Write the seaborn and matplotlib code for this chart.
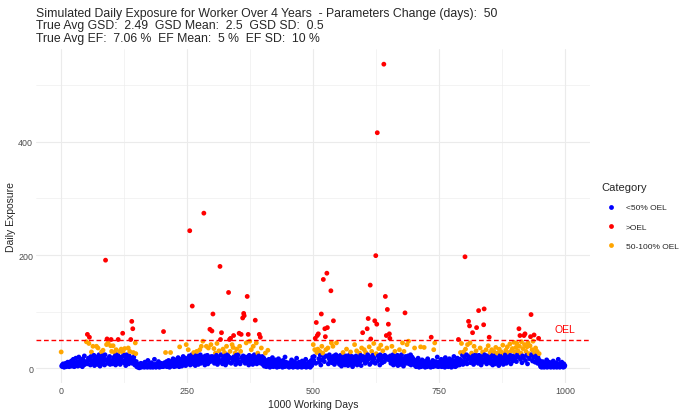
import numpy as np
import pandas as pd
import matplotlib
matplotlib.use("Agg")
import matplotlib.pyplot as plt
import seaborn as sns
from matplotlib.ticker import MultipleLocator

# ---- data: daily exposure, read per 50-day block ----
days_001_050 = [29, 4, 6, 3, 8, 5, 2, 7, 4, 9, 3, 6, 5, 11, 4, 7, 3, 5, 8, 6, 13, 4, 9, 5, 16, 7, 3, 10, 6, 18,
                5, 8, 12, 4, 7, 20, 6, 9, 14, 5, 8, 11, 3, 17, 6, 10, 22, 7, 12, 9]
days_051_100 = [47, 12, 60, 8, 18, 44, 55, 15, 6, 21, 29, 10, 14, 39, 9, 23, 5, 17, 11, 20, 39, 13, 7, 36, 16,
                24, 10, 4, 19, 14, 29, 8, 22, 32, 12, 17, 6, 24, 191, 15, 42, 52, 9, 45, 18, 11, 21, 7, 40, 51]
days_101_150 = [30, 14, 8, 40, 19, 11, 28, 22, 6, 33, 16, 9, 24, 51, 13, 20, 30, 7, 17, 34, 12, 21, 62, 28, 10,
                23, 35, 15, 5, 19, 24, 11, 16, 36, 8, 22, 30, 13, 51, 18, 83, 9, 70, 28, 20, 14, 6, 45, 26, 12]
days_151_200 = [3, 5, 2, 7, 4, 1, 6, 3, 9, 2, 5, 4, 8, 3, 6, 2, 11, 4, 3, 7, 5, 2, 14, 6, 3, 4, 8, 2, 5, 10,
                3, 6, 2, 4, 7, 16, 3, 5, 2, 8, 4, 6, 3, 12, 5, 2, 7, 4, 9, 3]
days_201_250 = [5, 8, 3, 65, 6, 10, 4, 28, 7, 12, 3, 9, 5, 14, 6, 2, 11, 28, 4, 8, 13, 5, 17, 7, 3, 10, 6, 15,
                4, 9, 12, 5, 19, 8, 3, 38, 11, 7, 16, 4, 13, 9, 21, 6, 14, 10, 18, 5, 42, 12]
days_251_300 = [17, 9, 33, 14, 22, 243, 6, 19, 11, 24, 110, 8, 16, 28, 12, 20, 5, 15, 23, 30, 10, 18, 7, 21, 13,
                33, 24, 9, 39, 16, 11, 48, 20, 274, 14, 6, 22, 17, 39, 10, 23, 8, 36, 15, 19, 69, 12, 42, 21, 66]
days_301_350 = [14, 96, 21, 35, 9, 18, 27, 12, 23, 44, 7, 16, 20, 31, 11, 180, 51, 24, 63, 15, 8, 34, 19, 13, 28,
                22, 6, 17, 39, 10, 24, 14, 134, 20, 51, 30, 53, 9, 18, 42, 12, 37, 58, 21, 16, 27, 7, 23, 34, 13]
days_351_400 = [17, 24, 11, 62, 39, 8, 30, 60, 19, 13, 89, 22, 97, 93, 15, 9, 20, 45, 12, 127, 18, 60, 6, 23, 48,
                14, 10, 33, 21, 16, 7, 39, 19, 24, 11, 85, 15, 45, 8, 20, 27, 13, 22, 60, 17, 55, 9, 36, 14, 21]
days_401_450 = [12, 6, 18, 4, 9, 27, 14, 3, 7, 11, 32, 5, 16, 8, 2, 13, 6, 10, 4, 19, 7, 3, 12, 5, 9, 15, 4, 8,
                2, 11, 6, 17, 3, 9, 5, 13, 7, 4, 10, 2, 14, 6, 8, 3, 20, 5, 11, 4, 7, 9]
days_451_500 = [4, 7, 2, 10, 5, 3, 8, 15, 4, 6, 2, 9, 5, 12, 3, 7, 4, 18, 6, 2, 8, 5, 11, 3, 6, 9, 4, 2, 13, 7,
                5, 3, 10, 6, 4, 16, 2, 8, 5, 3, 7, 11, 4, 6, 2, 9, 14, 5, 8, 20]
days_501_550 = [42, 14, 21, 33, 53, 9, 81, 28, 58, 34, 61, 17, 11, 30, 23, 6, 96, 39, 15, 27, 157, 19, 12, 70, 56,
                33, 22, 168, 72, 36, 8, 18, 24, 13, 20, 137, 45, 10, 16, 39, 84, 22, 7, 19, 14, 24, 45, 11, 17, 21]
days_551_600 = [12, 19, 7, 15, 23, 10, 4, 17, 13, 28, 8, 20, 11, 6, 16, 22, 34, 9, 14, 5, 18, 12, 24, 7, 29,
                15, 10, 21, 3, 13, 19, 8, 42, 16, 11, 22, 31, 6, 14, 20, 9, 17, 27, 12, 23, 5, 36, 15, 63, 18]
days_601_650 = [21, 33, 14, 9, 28, 19, 12, 70, 24, 88, 16, 38, 7, 147, 52, 20, 30, 11, 23, 15, 44, 18, 84, 9, 199,
                26, 78, 416, 13, 22, 35, 17, 6, 24, 41, 14, 19, 10, 31, 21, 537, 12, 23, 127, 16, 58, 36, 104, 20, 78]
days_651_700 = [15, 61, 53, 22, 9, 17, 39, 12, 24, 6, 19, 14, 30, 21, 8, 16, 11, 23, 5, 18, 13, 33, 20, 7, 15,
                24, 10, 45, 17, 4, 30, 12, 98, 21, 9, 16, 42, 13, 22, 48, 8, 19, 11, 24, 6, 15, 20, 10, 17, 13]
days_701_750 = [9, 36, 5, 14, 3, 8, 12, 4, 18, 7, 2, 11, 6, 38, 3, 9, 15, 5, 10, 4, 37, 7, 2, 13, 6, 9, 3, 17,
                5, 8, 11, 4, 7, 2, 55, 10, 6, 14, 3, 33, 8, 45, 5, 12, 4, 9, 20, 6, 3, 11]
days_751_800 = [7, 12, 4, 9, 16, 3, 6, 11, 5, 14, 8, 2, 19, 6, 10, 4, 13, 7, 3, 9, 17, 5, 11, 8, 2, 15, 6, 12,
                4, 21, 9, 7, 3, 14, 10, 5, 18, 8, 51, 12, 6, 16, 28, 9, 44, 13, 23, 7, 29, 11]
days_801_850 = [19, 197, 34, 12, 24, 8, 42, 16, 83, 21, 75, 45, 10, 18, 27, 14, 63, 22, 7, 39, 17, 11, 24, 31, 72,
                15, 20, 9, 102, 23, 13, 36, 18, 6, 21, 16, 29, 11, 77, 105, 24, 14, 19, 33, 8, 22, 15, 40, 12, 55]
days_851_900 = [17, 28, 9, 21, 33, 14, 6, 24, 30, 12, 19, 8, 37, 16, 22, 27, 11, 18, 5, 34, 15, 23, 10, 29, 20,
                13, 41, 7, 19, 26, 14, 24, 32, 9, 17, 38, 21, 12, 28, 16, 43, 23, 8, 31, 19, 35, 13, 22, 46, 15]
days_901_950 = [29, 18, 37, 12, 44, 24, 31, 20, 70, 39, 58, 16, 27, 47, 10, 22, 35, 19, 58, 42, 61, 14, 30, 23, 38,
                8, 45, 21, 26, 17, 40, 56, 95, 24, 33, 13, 48, 20, 59, 28, 11, 36, 22, 15, 30, 9, 19, 53, 26, 14]
days_951_1000 = [6, 3, 9, 2, 5, 12, 4, 7, 2, 10, 3, 6, 4, 15, 2, 8, 5, 3, 11, 4, 6, 2, 9, 3, 7, 5, 13, 2, 4, 8,
                 3, 6, 10, 2, 5, 4, 16, 3, 7, 2, 9, 5, 3, 11, 4, 6, 2, 8, 3, 5]

OEL = 50
category_labels = ["<50% OEL", ">OEL", "50-100% OEL"]
category_colors = ["#0000FF", "#FF0000", "#FFA500"]
x_ticks = [0, 250, 500, 750, 1000]
y_ticks = [0, 200, 400]
title_lines = [
    "Simulated Daily Exposure for Worker Over 4 Years  - Parameters Change (days):  50",
    "True Avg GSD:  2.49  GSD Mean:  2.5  GSD SD:  0.5",
    "True Avg EF:  7.06 %  EF Mean:  5 %  EF SD:  10 %",
]

exposure = (days_001_050 + days_051_100 + days_101_150 + days_151_200 + days_201_250 +
            days_251_300 + days_301_350 + days_351_400 + days_401_450 + days_451_500 +
            days_501_550 + days_551_600 + days_601_650 + days_651_700 + days_701_750 +
            days_751_800 + days_801_850 + days_851_900 + days_901_950 + days_951_1000)


def categorize(v):
    if v > OEL:
        return ">OEL"
    if v >= OEL / 2:
        return "50-100% OEL"
    return "<50% OEL"


df = pd.DataFrame({"day": np.arange(1, len(exposure) + 1), "exposure": exposure})
df["Category"] = df["exposure"].map(categorize)

sns.set_theme(style="white")
plt.rcParams["font.family"] = ["Liberation Sans", "DejaVu Sans"]

fig = plt.figure(figsize=(6.9, 4.14), dpi=100)
ax = fig.add_axes([36 / 690, 30 / 414, 554 / 690, 334 / 414])

sns.scatterplot(data=df, x="day", y="exposure", hue="Category", hue_order=category_labels,
                palette=dict(zip(category_labels, category_colors)), s=12, linewidth=0,
                ax=ax, zorder=3)
ax.axhline(OEL, color="#FF0000", ls=(0, (3.4, 2.0)), lw=1.0, zorder=4)
ax.text(1000, 69, "OEL", color="#FF0000", ha="center", va="center", fontsize=7.5)

ax.margins(0.05)
ax.set_xticks(x_ticks)
ax.set_yticks(y_ticks)
ax.xaxis.set_minor_locator(MultipleLocator(125))
ax.yaxis.set_minor_locator(MultipleLocator(100))
ax.grid(which="major", color="#EBEBEB", lw=0.8)
ax.grid(which="minor", color="#EBEBEB", lw=0.4)
ax.set_axisbelow(True)
for sp in ax.spines.values():
    sp.set_visible(False)
ax.tick_params(which="both", length=0, labelsize=6.4, labelcolor="#4D4D4D", pad=2)
ax.set_xlabel("1000 Working Days", fontsize=7.5, labelpad=3)
ax.set_ylabel("Daily Exposure", fontsize=7.5)
ax.yaxis.set_label_coords(-0.036, 0.5)

sns.move_legend(ax, "center left", bbox_to_anchor=(1.02, 0.5), frameon=False,
                title="Category", fontsize=6.0, title_fontsize=8.0, alignment="left",
                borderaxespad=0, borderpad=0, labelspacing=1.35, handlelength=2.4,
                handletextpad=0.6)

fig.text(36 / 690, 1 - 8 / 414, "\n".join(title_lines), ha="left", va="top",
         fontsize=8.8, linespacing=1.05)

fig.savefig("out.png", dpi=100)
